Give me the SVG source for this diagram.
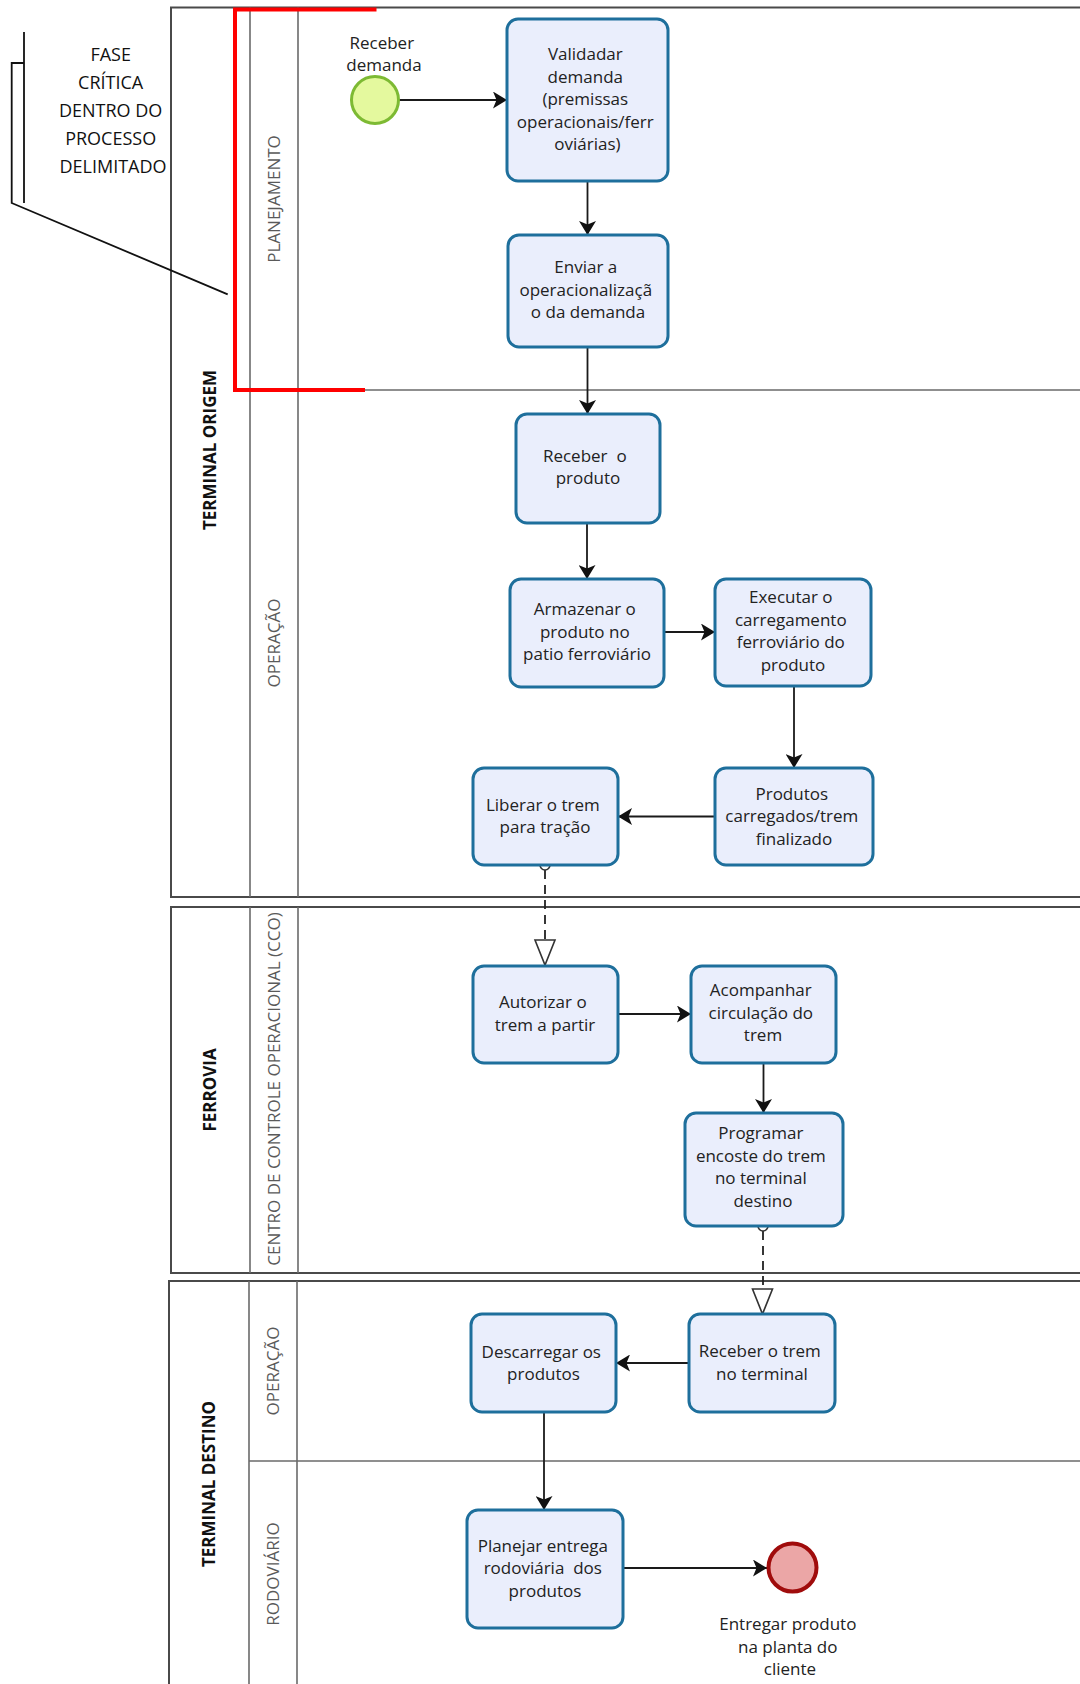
<svg xmlns="http://www.w3.org/2000/svg" width="1080" height="1684" viewBox="0 0 1080 1684">
  <style>
    .pool { fill: #ffffff; stroke: #4a4a4a; stroke-width: 2; }
    .div { stroke: #6a6a6a; stroke-width: 1.6; fill: none; }
    .pool-label { font-family: "Open Sans", "Liberation Sans", sans-serif; font-size: 17px; font-weight: bold; fill: #111; text-anchor: middle; }
    .lane-label { font-family: "Open Sans", "Liberation Sans", sans-serif; font-size: 17px; fill: #5a5a5a; text-anchor: middle; }
    .task rect { fill: #eaeefc; stroke: #1e6f9c; stroke-width: 3; }
    .task text, .evt-label { font-family: "Open Sans", "Liberation Sans", sans-serif; font-size: 17px; fill: #222; text-anchor: middle; }
    .flow { stroke: #1a1a1a; stroke-width: 1.8; fill: none; marker-end: url(#head); }
    .msg { stroke: #222; stroke-width: 1.8; fill: none; stroke-dasharray: 9 6; }
    .msg-end { fill: #ffffff; stroke: #333; stroke-width: 1.6; }
    .note { font-family: "Open Sans", "Liberation Sans", sans-serif; font-size: 18px; fill: #111; text-anchor: middle; }
  </style>
  <defs>
    <marker id="head" markerUnits="userSpaceOnUse" viewBox="0 0 14 17" markerWidth="14" markerHeight="17" refX="14" refY="8.5" orient="auto">
      <path d="M0,0 L14,8.5 L0,17 L3.5,8.5 Z" fill="#111"/>
    </marker>
  </defs>

  <rect width="1080" height="1684" fill="#ffffff"/>

  <!-- Pool: TERMINAL ORIGEM -->
  <g id="pool-terminal-origem">
    <rect class="pool" x="171" y="7.5" width="930" height="889.5"/>
    <line class="div" x1="250" y1="7.5" x2="250" y2="897"/>
    <line class="div" x1="298" y1="7.5" x2="298" y2="897"/>
    <line class="div" x1="250" y1="390" x2="1100" y2="390"/>
    <text class="pool-label" transform="translate(216,450) rotate(-90)">TERMINAL ORIGEM</text>
    <text class="lane-label" transform="translate(280,199) rotate(-90)">PLANEJAMENTO</text>
    <text class="lane-label" transform="translate(280,643) rotate(-90)">OPERAÇÃO</text>
  </g>

  <!-- Pool: FERROVIA -->
  <g id="pool-ferrovia">
    <rect class="pool" x="171" y="907" width="930" height="366"/>
    <line class="div" x1="250" y1="907" x2="250" y2="1273"/>
    <line class="div" x1="298" y1="907" x2="298" y2="1273"/>
    <text class="pool-label" transform="translate(216,1090) rotate(-90)">FERROVIA</text>
    <text class="lane-label" transform="translate(280,1089) rotate(-90)">CENTRO DE CONTROLE OPERACIONAL (CCO)</text>
  </g>

  <!-- Pool: TERMINAL DESTINO -->
  <g id="pool-terminal-destino">
    <rect class="pool" x="169" y="1281" width="932" height="420"/>
    <line class="div" x1="249" y1="1281" x2="249" y2="1701"/>
    <line class="div" x1="297" y1="1281" x2="297" y2="1701"/>
    <line class="div" x1="249" y1="1461" x2="1100" y2="1461"/>
    <text class="pool-label" transform="translate(215,1484) rotate(-90)">TERMINAL DESTINO</text>
    <text class="lane-label" transform="translate(279,1371) rotate(-90)">OPERAÇÃO</text>
    <text class="lane-label" transform="translate(279,1574) rotate(-90)">RODOVIÁRIO</text>
  </g>

  <!-- Critical-phase annotation -->
  <g id="annotation">
    <path d="M376.5,9.5 H235 V390 H365" fill="none" stroke="#ff0000" stroke-width="4"/>
    <path d="M24,32 V203 M24,63 H11.7 V203 L227.7,294.3" fill="none" stroke="#111" stroke-width="1.8"/>
    <text class="note">
      <tspan x="113" y="61">FASE</tspan>
      <tspan x="113" y="89">CRÍTICA</tspan>
      <tspan x="113" y="117">DENTRO DO</tspan>
      <tspan x="113" y="145">PROCESSO</tspan>
      <tspan x="113" y="173">DELIMITADO</tspan>
    </text>
  </g>

  <!-- Sequence and message flows -->
  <g id="connectors">
    <path class="flow" d="M398.5,100 H507"/>
    <path class="flow" d="M587.5,181 V235"/>
    <path class="flow" d="M587.5,347 V414"/>
    <path class="flow" d="M587,523 V579"/>
    <path class="flow" d="M664,632 H715"/>
    <path class="flow" d="M794,686 V768"/>
    <path class="flow" d="M715,816.5 H618"/>
    <path class="flow" d="M618,1014 H691"/>
    <path class="flow" d="M763.5,1063 V1113"/>
    <path class="flow" d="M689,1363 H616"/>
    <path class="flow" d="M544,1412 V1510"/>
    <path class="flow" d="M623,1568 H767"/>

    <path class="msg" d="M545,870 V940"/>
    <circle class="msg-end" cx="545" cy="865" r="5"/>
    <path class="msg-end" d="M535,940 H555 L545,965 Z"/>

    <path class="msg" d="M763,1231 V1289"/>
    <circle class="msg-end" cx="763" cy="1226" r="5"/>
    <path class="msg-end" d="M752.5,1289 H772.5 L762.5,1314 Z"/>
  </g>

  <!-- Start event -->
  <g id="start-receber-demanda">
    <circle cx="375" cy="100" r="23.5" fill="#e4f99e" stroke="#7dba33" stroke-width="3"/>
    <text class="evt-label">
      <tspan x="384" y="48.5">Receber</tspan>
      <tspan x="384" y="71">demanda</tspan>
    </text>
  </g>

  <g id="task-validar" class="task">
    <rect x="507" y="19" width="161" height="162" rx="11"/>
    <text>
      <tspan x="587.5" y="60">Validadar</tspan>
      <tspan x="587.5" y="82.5">demanda</tspan>
      <tspan x="587.5" y="105">(premissas</tspan>
      <tspan x="587.5" y="127.5">operacionais/ferr</tspan>
      <tspan x="587.5" y="150">oviárias)</tspan>
    </text>
  </g>

  <g id="task-enviar" class="task">
    <rect x="508" y="235" width="160" height="112" rx="11"/>
    <text>
      <tspan x="588" y="273">Enviar a</tspan>
      <tspan x="588" y="295.5">operacionalizaçã</tspan>
      <tspan x="588" y="318">o da demanda</tspan>
    </text>
  </g>

  <g id="task-receber-produto" class="task">
    <rect x="516" y="414" width="144" height="109" rx="11"/>
    <text>
      <tspan x="587" y="461.75">Receber&#160; o</tspan>
      <tspan x="588" y="484.25">produto</tspan>
    </text>
  </g>

  <g id="task-armazenar" class="task">
    <rect x="510" y="579" width="154" height="108" rx="11"/>
    <text>
      <tspan x="587" y="615">Armazenar o</tspan>
      <tspan x="587" y="637.5">produto no</tspan>
      <tspan x="587" y="660">patio ferroviário</tspan>
    </text>
  </g>

  <g id="task-executar" class="task">
    <rect x="715" y="579" width="156" height="107" rx="11"/>
    <text>
      <tspan x="793" y="603.25">Executar o</tspan>
      <tspan x="793" y="625.75">carregamento</tspan>
      <tspan x="793" y="648.25">ferroviário do</tspan>
      <tspan x="793" y="670.75">produto</tspan>
    </text>
  </g>

  <g id="task-produtos-carregados" class="task">
    <rect x="715" y="768" width="158" height="97" rx="11"/>
    <text>
      <tspan x="794" y="799.5">Produtos</tspan>
      <tspan x="794" y="822">carregados/trem</tspan>
      <tspan x="794" y="844.5">finalizado</tspan>
    </text>
  </g>

  <g id="task-liberar" class="task">
    <rect x="473" y="768" width="145" height="97" rx="11"/>
    <text>
      <tspan x="545" y="810.75">Liberar o trem</tspan>
      <tspan x="545" y="833.25">para tração</tspan>
    </text>
  </g>

  <g id="task-autorizar" class="task">
    <rect x="473" y="966" width="145" height="97" rx="11"/>
    <text>
      <tspan x="545" y="1008.25">Autorizar o</tspan>
      <tspan x="545" y="1030.75">trem a partir</tspan>
    </text>
  </g>

  <g id="task-acompanhar" class="task">
    <rect x="691" y="966" width="145" height="97" rx="11"/>
    <text>
      <tspan x="763" y="996">Acompanhar</tspan>
      <tspan x="763" y="1018.5">circulação do</tspan>
      <tspan x="763" y="1041">trem</tspan>
    </text>
  </g>

  <g id="task-programar" class="task">
    <rect x="685" y="1113" width="158" height="113" rx="11"/>
    <text>
      <tspan x="763" y="1139.25">Programar</tspan>
      <tspan x="763" y="1161.75">encoste do trem</tspan>
      <tspan x="763" y="1184.25">no terminal</tspan>
      <tspan x="763" y="1206.75">destino</tspan>
    </text>
  </g>

  <g id="task-receber-trem" class="task">
    <rect x="689" y="1314" width="146" height="98" rx="11"/>
    <text>
      <tspan x="762" y="1357.25">Receber o trem</tspan>
      <tspan x="762" y="1379.75">no terminal</tspan>
    </text>
  </g>

  <g id="task-descarregar" class="task">
    <rect x="471" y="1314" width="145" height="98" rx="11"/>
    <text>
      <tspan x="543.5" y="1357.75">Descarregar os</tspan>
      <tspan x="543.5" y="1380.25">produtos</tspan>
    </text>
  </g>

  <g id="task-planejar" class="task">
    <rect x="467" y="1510" width="156" height="118" rx="11"/>
    <text>
      <tspan x="545" y="1551.5">Planejar entrega</tspan>
      <tspan x="545" y="1574">rodoviária&#160; dos</tspan>
      <tspan x="545" y="1596.5">produtos</tspan>
    </text>
  </g>

  <!-- End event -->
  <g id="end-entregar-produto">
    <circle cx="792.5" cy="1567.5" r="24" fill="#eba6a6" stroke="#a00c0c" stroke-width="4"/>
    <text class="evt-label">
      <tspan x="790" y="1630">Entregar produto</tspan>
      <tspan x="790" y="1652.5">na planta do</tspan>
      <tspan x="790" y="1675">cliente</tspan>
    </text>
  </g>
</svg>
